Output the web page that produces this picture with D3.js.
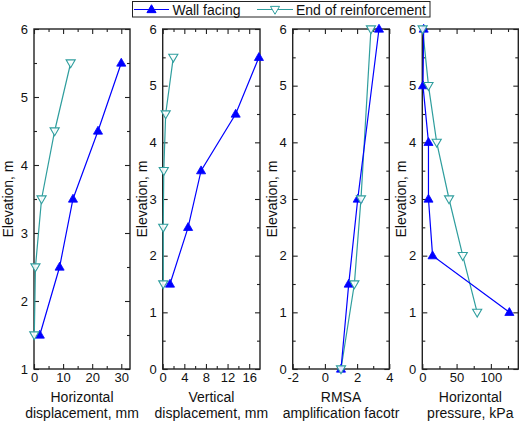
<!DOCTYPE html>
<html>
<head>
<meta charset="utf-8">
<script src="https://cdn.jsdelivr.net/npm/d3@7/dist/d3.min.js"></script>
<style>
html,body{margin:0;padding:0;background:#fff;}
svg{display:block;font-family:"Liberation Sans",Arial,sans-serif;}
</style>
</head>
<body>
<svg id="chart" width="521" height="425"></svg>
<script>
// ---- Data ----
const seriesNames = ["Wall facing", "End of reinforcement"];

const elevHoriz = [1.5, 2.5, 3.5, 4.5, 5.5];
const wallHorizDisp = [2.0, 8.8, 13.4, 22.0, 30.0];
const endHorizDisp = [0.1, 0.5, 2.6, 7.1, 12.6];

const elevVert = [1.5, 2.5, 3.5, 4.5, 5.5];
const wallVertDisp = [1.35, 4.7, 7.1, 13.5, 17.8];
const endVertDisp = [0.1, 0.1, 0.2, 0.55, 1.96];

const elevRmsa = [0, 1.5, 3, 6];
const wallRmsa = [1.0, 1.48, 2.04, 3.36];
const endRmsa = [1.0, 1.83, 2.24, 2.86];

const elevPress = [1, 2, 3, 4, 5, 6];
const wallPress = [127, 15, 9, 9, 1, 2];
const endPress = [80, 59, 39, 21, 9, 0.5];

const xTitles = [
  ["Horizontal", "displacement, mm"],
  ["Vertical", "displacement, mm"],
  ["RMSA", "amplification facotr"],
  ["Horizontal", "pressure, kPa"]
];
const yTitle = "Elevation, m";

const xMajor = [[0, 10, 20, 30], [0, 4, 8, 12, 16], [-2, 0, 2, 4], [0, 50, 100]];
const xMinor = [[5, 15, 25], [2, 6, 10, 14, 18], [-1, 1, 3], [25, 75, 125]];
const xDomains = [[0, 33], [0, 18], [-2, 4], [0, 140]];
const yDomains = [[1, 6], [0, 6], [0, 6], [0, 6]];
const yMajor = [[1, 2, 3, 4, 5, 6], [0, 1, 2, 3, 4, 5, 6], [0, 1, 2, 3, 4, 5, 6], [0, 1, 2, 3, 4, 5, 6]];
const yMinor = [[1.5, 2.5, 3.5, 4.5, 5.5], [0.5, 1.5, 2.5, 3.5, 4.5, 5.5], [0.5, 1.5, 2.5, 3.5, 4.5, 5.5], [0.5, 1.5, 2.5, 3.5, 4.5, 5.5]];

// ---- Layout ----
const colors = ["#0000ff", "#2f9e9e"];
const panelX = [[34, 130], [162.7, 260], [292.7, 389.3], [422.3, 518.3]];
const yTop = 29, yBot = 369;
const yTitleOffset = [21, 16, 16, 16];

const svg = d3.select("#chart");
const fmt = v => String(v); // plain hyphen-minus as in the reference

const panels = [
  {elev: elevHoriz, wall: wallHorizDisp, end: endHorizDisp},
  {elev: elevVert, wall: wallVertDisp, end: endVertDisp},
  {elev: elevRmsa, wall: wallRmsa, end: endRmsa},
  {elev: elevPress, wall: wallPress, end: endPress}
];

const triUp = d3.symbol().type(d3.symbolTriangle).size(36);

function styleAxis(g) {
  g.select(".domain").remove();
  g.selectAll(".tick line").attr("stroke", "#222").attr("stroke-width", 1.1);
  g.selectAll("text").attr("font-size", 13).attr("fill", "#111")
    .attr("font-family", "'Liberation Sans', Arial, sans-serif");
}

panels.forEach((p, i) => {
  const x = d3.scaleLinear().domain(xDomains[i]).range(panelX[i]);
  const y = d3.scaleLinear().domain(yDomains[i]).range([yBot, yTop]);
  const g = svg.append("g");
  const minX = xMinor[i].filter(v => v < xDomains[i][1]);

  g.append("g").attr("transform", `translate(0,${yBot})`)
    .call(d3.axisBottom(x).tickValues(xMajor[i]).tickSizeInner(-5).tickSizeOuter(0).tickPadding(4).tickFormat(fmt))
    .call(styleAxis);
  g.append("g").attr("transform", `translate(0,${yBot})`)
    .call(d3.axisBottom(x).tickValues(minX).tickSizeInner(-3).tickSizeOuter(0).tickFormat(""))
    .call(styleAxis);
  g.append("g").attr("transform", `translate(0,${yTop})`)
    .call(d3.axisTop(x).tickValues(xMajor[i]).tickSizeInner(-5).tickSizeOuter(0).tickFormat(""))
    .call(styleAxis);
  g.append("g").attr("transform", `translate(0,${yTop})`)
    .call(d3.axisTop(x).tickValues(minX).tickSizeInner(-3).tickSizeOuter(0).tickFormat(""))
    .call(styleAxis);
  g.append("g").attr("transform", `translate(${panelX[i][0]},0)`)
    .call(d3.axisLeft(y).tickValues(yMajor[i]).tickSizeInner(-5).tickSizeOuter(0).tickPadding(6).tickFormat(fmt))
    .call(styleAxis);
  g.append("g").attr("transform", `translate(${panelX[i][0]},0)`)
    .call(d3.axisLeft(y).tickValues(yMinor[i]).tickSizeInner(-3).tickSizeOuter(0).tickFormat(""))
    .call(styleAxis);
  g.append("g").attr("transform", `translate(${panelX[i][1]},0)`)
    .call(d3.axisRight(y).tickValues(yMajor[i]).tickSizeInner(-5).tickSizeOuter(0).tickFormat(""))
    .call(styleAxis);
  g.append("g").attr("transform", `translate(${panelX[i][1]},0)`)
    .call(d3.axisRight(y).tickValues(yMinor[i]).tickSizeInner(-3).tickSizeOuter(0).tickFormat(""))
    .call(styleAxis);

  g.append("rect")
    .attr("x", panelX[i][0]).attr("y", yTop)
    .attr("width", panelX[i][1] - panelX[i][0]).attr("height", yBot - yTop)
    .attr("fill", "none").attr("stroke", "#222").attr("stroke-width", 1.4);

  const line = d3.line().x(d => x(d[0])).y(d => y(d[1]));
  const endPts = p.end.map((v, k) => [v, p.elev[k]]);
  const wallPts = p.wall.map((v, k) => [v, p.elev[k]]);

  g.append("path").datum(endPts).attr("d", line)
    .attr("fill", "none").attr("stroke", colors[1]).attr("stroke-width", 1.2);
  g.append("path").datum(wallPts).attr("d", line)
    .attr("fill", "none").attr("stroke", colors[0]).attr("stroke-width", 1.2);

  g.selectAll(".wm").data(wallPts).enter().append("path")
    .attr("d", triUp)
    .attr("transform", d => `translate(${x(d[0])},${y(d[1]) + 0.5})`)
    .attr("fill", colors[0]).attr("stroke", colors[0]).attr("stroke-width", 0.8);
  g.selectAll(".em").data(endPts).enter().append("path")
    .attr("d", triUp)
    .attr("transform", d => `translate(${x(d[0])},${y(d[1]) - 0.5}) rotate(180)`)
    .attr("fill", "#fff").attr("fill-opacity", 0.9).attr("stroke", colors[1]).attr("stroke-width", 1.1);

  const cx = (panelX[i][0] + panelX[i][1]) / 2;
  g.append("text").attr("text-anchor", "middle").attr("font-size", 14).attr("fill", "#111")
    .attr("x", cx).attr("y", 401.5).text(xTitles[i][0]);
  g.append("text").attr("text-anchor", "middle").attr("font-size", 14).attr("fill", "#111")
    .attr("x", cx).attr("y", 417.5).text(xTitles[i][1]);

  g.append("text")
    .attr("transform", `translate(${panelX[i][0] - yTitleOffset[i]},${(yTop + yBot) / 2}) rotate(-90)`)
    .attr("text-anchor", "middle").attr("font-size", 14).attr("fill", "#111")
    .text(yTitle);
});

// legend
const lg = svg.append("g");
lg.append("rect").attr("x", 132.5).attr("y", 1.5).attr("width", 297.5).attr("height", 15.5)
  .attr("fill", "#fff").attr("stroke", "#222").attr("stroke-width", 1);
const legendItems = [
  {x0: 134, x1: 169, tx: 172.5, color: colors[0], filled: true},
  {x0: 257, x1: 293, tx: 296, color: colors[1], filled: false}
];
legendItems.forEach((it, k) => {
  lg.append("line").attr("x1", it.x0).attr("x2", it.x1).attr("y1", 9.5).attr("y2", 9.5)
    .attr("stroke", it.color).attr("stroke-width", 1.2);
  const mx = (it.x0 + it.x1) / 2;
  lg.append("path").attr("d", triUp)
    .attr("transform", it.filled ? `translate(${mx},10)` : `translate(${mx},9) rotate(180)`)
    .attr("fill", it.filled ? it.color : "#fff").attr("stroke", it.color).attr("stroke-width", 1);
  lg.append("text").attr("x", it.tx).attr("y", 14.5).attr("font-size", 14).attr("fill", "#111")
    .text(seriesNames[k]);
});
</script>
</body>
</html>
